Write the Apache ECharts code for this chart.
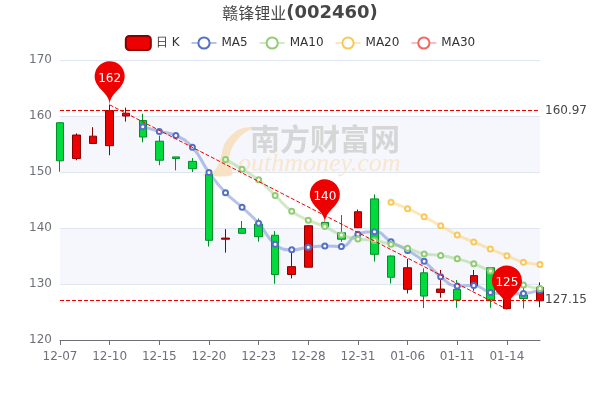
<!DOCTYPE html>
<html>
<head>
<meta charset="utf-8">
<style>html,body{margin:0;padding:0;background:#fff}#main{width:600px;height:400px}</style>
<script src="https://cdn.jsdelivr.net/npm/echarts@6/dist/echarts.min.js"></script>
</head>
<body>
<div id="main"></div>
<script>
var dates = ['12-07','12-08','12-09','12-10','12-13','12-14','12-15','12-16','12-17','12-20',
  '12-21','12-22','12-23','12-24','12-27','12-28','12-29','12-30','12-31','01-04',
  '01-05','01-06','01-07','01-10','01-11','01-12','01-13','01-14','01-17','01-18'];
// open, close, low, high
var kline = [
  [158.8,152.0,150.05,158.9],[152.4,156.6,152.1,156.9],[155.1,156.4,155.1,158.0],[154.7,160.97,153.0,162.0],[160.0,160.5,159.0,161.5],
  [159.2,156.25,155.3,160.4],[155.5,152.1,151.2,156.5],[152.7,152.4,150.3,152.7],[151.9,150.6,150.0,152.5],[149.6,137.8,136.7,149.7],
  [138.0,138.2,135.6,139.8],[139.9,139.05,139.05,141.25],[140.7,138.45,137.55,141.7],[138.7,131.7,130.05,139.45],[131.7,133.1,131.0,136.1],
  [133.0,140.4,133.0,140.5],[141.0,140.2,140.0,141.1],[139.15,138.0,137.55,142.3],[140.05,142.9,140.0,143.3],[145.2,135.3,134.0,146.0],
  [135.0,131.2,130.1,135.1],[129.05,132.9,128.3,134.5],[132.0,127.85,125.7,132.8],[128.5,129.1,127.55,132.5],[129.05,127.15,125.75,130.7],
  [129.65,131.5,128.8,132.5],[132.9,127.15,125.75,133.0],[125.6,129.0,125.5,129.5],[128.05,127.4,125.65,130.0],[127.0,129.4,125.85,130.3]
];
var ma5 = ['-','-','-','-','-',158.1,157.25,156.5,154.4,149.9,146.3,143.7,140.85,137.1,136.1,136.55,136.8,136.7,138.9,139.35,137.55,136,134.05,131.3,129.65,129.75,128.5,128.2,128.3,128.95];
var ma10 = ['-','-','-','-','-','-','-','-','-','-',152.25,150.5,148.6,145.8,143,141.4,140.25,138.75,138.05,137.75,137.1,136.4,135.35,135.1,134.5,133.6,132.3,131,129.8,129.2];
var ma20 = ['-','-','-','-','-','-','-','-','-','-','-','-','-','-','-','-','-','-','-','-',144.6,143.45,142,140.4,138.75,137.5,136.25,135.05,133.9,133.5];
var ma30 = [];
var pinDates = ['12-10','12-29','01-14'];
var pinPrices = [162,140.9,125.5];
var pinLabels = [162,140,125];
var levelPrices = [160.97,127.15];

var myChart = echarts.init(document.getElementById('main'));

function maSeries(name, data, color) {
  return {
    name: name,
    type: 'line',
    data: data,
    smooth: true,
    symbol: 'emptyCircle',
    symbolSize: 5,
    showSymbol: true,
    showAllSymbol: true,
    itemStyle: {color: color, borderWidth: 1.5},
    lineStyle: {color: color, width: 3, opacity: 0.42},
    z: 3
  };
}

var fontName = '"DejaVu Sans"';

myChart.setOption({
  animation: false,
  textStyle: {fontFamily: fontName},
  title: {
    text: '{a|赣锋锂业}{b|(002460)}',
    left: 'center',
    top: -1,
    textStyle: {
      rich: {
        a: {fontSize: 16, fontWeight: 'normal', color: '#464646', fontFamily: '"Noto Sans CJK SC"'},
        b: {fontSize: 18, fontWeight: 'bold', color: '#464646', fontFamily: fontName}
      }
    }
  },
  legend: {
    top: 30,
    itemGap: 11,
    data: ['日 K','MA5','MA10','MA20','MA30'],
    textStyle: {color: '#333', fontSize: 12}
  },
  grid: {left: 60, right: 60, top: 60, bottom: 60},
  xAxis: {
    type: 'category',
    data: dates,
    boundaryGap: false,
    axisLine: {lineStyle: {color: '#6E7079'}},
    axisTick: {show: true, interval: 2},
    axisLabel: {interval: 2, color: '#6E7079', fontSize: 12, margin: 11},
    splitLine: {show: false}
  },
  yAxis: {
    type: 'value',
    min: 120,
    max: 170,
    interval: 10,
    axisLine: {show: false},
    axisTick: {show: false},
    axisLabel: {color: '#6E7079', fontSize: 12, padding: [2, 0, 0, 0]},
    splitLine: {show: true, lineStyle: {color: '#E0E6F1'}},
    splitArea: {show: true, areaStyle: {color: ['rgba(255,255,255,0)', '#f5f7fc']}}
  },
  graphic: [
    {
      type: 'polygon', z: 1,
      shape: {
        points: [[255,127],[238,130],[225,143],[220,160],[214,171],[202,175],[232,175],[229,160],[233,146],[243,134]],
        smooth: 0.3
      },
      style: {fill: '#f8e2c6'}
    },
    {
      type: 'text', z: 1, left: 250, top: 124,
      style: {text: '南方财富网', fill: '#d6d6d6', font: 'bold 30px "Noto Sans CJK SC"'}
    },
    {
      type: 'text', z: 1, left: 238, top: 151,
      style: {text: 'outhmoney.com', fill: '#f8e6d0', font: 'italic 26px "Liberation Serif"'}
    }
  ],
  series: [
    {
      name: '日 K',
      type: 'candlestick',
      data: kline,
      barWidth: 8,
      clip: false,
      itemStyle: {color: '#ec0000', color0: '#00da3c', borderColor: '#8A0000', borderColor0: '#008F28'},
      markPoint: {
        symbol: 'pin',
        symbolSize: 50,
        itemStyle: {color: '#ee0000'},
        label: {color: '#fff', fontSize: 12},
        data: pinLabels.map(function (v, i) {
          return {value: v, coord: [pinDates[i], pinPrices[i]]};
        })
      },
      markLine: {
        symbol: ['none','none'],
        silent: true,
        lineStyle: {color: '#ee0000', type: 'dashed', width: 1},
        label: {position: 'end', color: '#464646', fontSize: 12},
        data: [
          {yAxis: levelPrices[0]},
          {yAxis: levelPrices[1]},
          [
            {coord: [pinDates[0], pinPrices[0]], label: {show: false}},
            {coord: [pinDates[2], pinPrices[2]]}
          ]
        ]
      }
    },
    maSeries('MA5', ma5, '#5470c6'),
    maSeries('MA10', ma10, '#91cc75'),
    maSeries('MA20', ma20, '#fac858'),
    maSeries('MA30', ma30, '#ee6666')
  ]
});
</script>
</body>
</html>
